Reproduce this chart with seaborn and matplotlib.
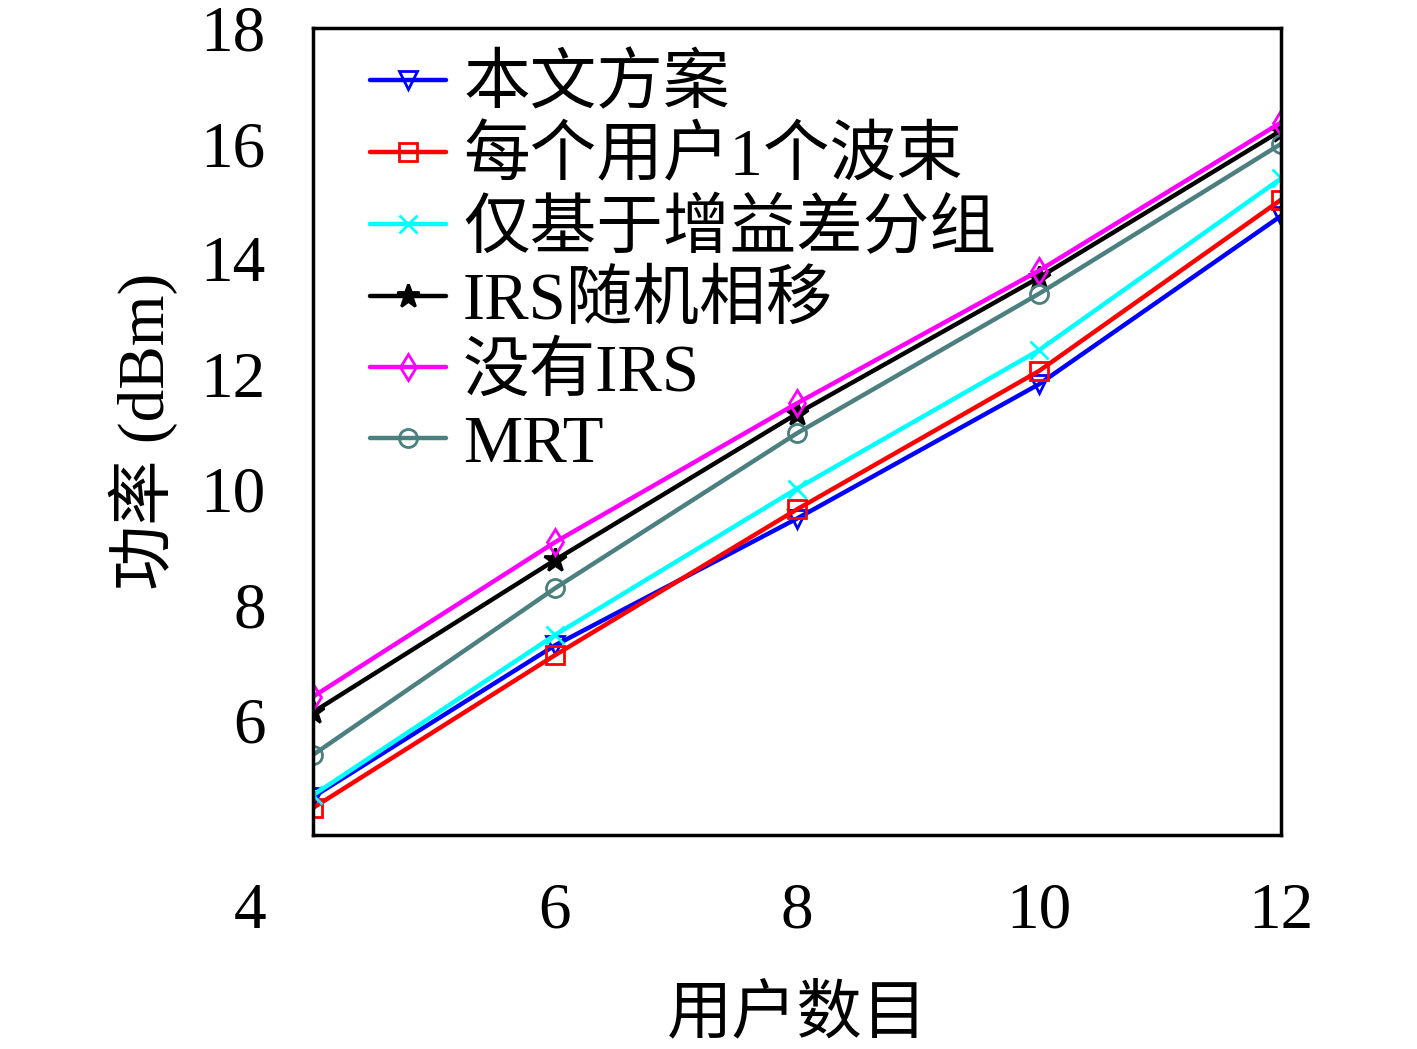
import matplotlib
matplotlib.use("Agg")
import matplotlib.pyplot as plt
import matplotlib.transforms as mtransforms
import seaborn as sns
import pandas as pd

users = [4, 6, 8, 10, 12]
proposed = [4.66, 7.29, 9.49, 11.82, 14.74]
one_beam = [4.47, 7.12, 9.65, 12.05, 15.02]
gain_group = [4.69, 7.47, 10.01, 12.41, 15.39]
irs_random = [6.13, 8.77, 11.31, 13.67, 16.22]
no_irs = [6.40, 9.08, 11.49, 13.79, 16.36]
mrt = [5.39, 8.28, 10.97, 13.39, 15.99]

labels = ["本文方案", "每个用户1个波束", "仅基于增益差分组", "IRS随机相移", "没有IRS", "MRT"]
series = [proposed, one_beam, gain_group, irs_random, no_irs, mrt]
colors = ["#0000ff", "#ff0000", "#00ffff", "#000000", "#ff00ff", "#4c7f7f"]
markers = ["v", "s", "x", "*", "d", "o"]

xticks = [4, 6, 8, 10, 12]
yticks = [6, 8, 10, 12, 14, 16, 18]
xlabel = "用户数目"
ylabel = "功率 (dBm)"

sns.set_theme(style="white")
fam = ["Liberation Serif", "Noto Sans CJK SC"]
plt.rcParams["font.family"] = fam
plt.rcParams["axes.unicode_minus"] = False
plt.rcParams["text.color"] = "black"
plt.rcParams["axes.labelcolor"] = "black"
plt.rcParams["xtick.color"] = "black"
plt.rcParams["ytick.color"] = "black"

fig = plt.figure(figsize=(14.17, 10.49), dpi=100)
fig.patch.set_facecolor("white")
ax = fig.add_axes([313/1417, 1-835/1049, (1281-313)/1417, (835-28)/1049])
ax.set_facecolor("white")

for lab, ys, c, m in zip(labels, series, colors, markers):
    df = pd.DataFrame({"x": users, "y": ys})
    filled = m == "*"
    sns.lineplot(data=df, x="x", y="y", ax=ax, color=c, marker=m, linewidth=3.2,
                 markersize=13 if m != "*" else 17,
                 markerfacecolor=c if filled else "none",
                 markeredgecolor=c, markeredgewidth=2.0, label=lab)

ax.set_xlim(4, 12)
ax.set_ylim(4, 18)
ax.set_xticks(xticks)
ax.set_xticklabels([str(v) for v in xticks])
ax.set_yticks(yticks)
ax.set_yticklabels([str(v) for v in yticks])
ax.tick_params(axis="x", direction="in", length=10, width=2, pad=34, labelsize=47, top=False)
ax.tick_params(axis="y", direction="in", length=10, width=2, pad=34, labelsize=47, right=False)
for t in ax.get_xticklabels():
    t.set_fontfamily(fam)
for t in ax.get_yticklabels():
    t.set_fontfamily(fam)
lab4 = ax.get_xticklabels()[0]
lab4.set_transform(lab4.get_transform() + mtransforms.ScaledTranslation(-0.63, 0, fig.dpi_scale_trans))

for s in ax.spines.values():
    s.set_color("black")
    s.set_linewidth(2.5)
    s.set_visible(True)

ax.set_xlabel(xlabel, fontsize=47, labelpad=32, family=fam)
ax.set_ylabel(ylabel, fontsize=47, labelpad=16, family=fam)

leg = ax.legend(loc="upper left", frameon=False, handlelength=1.15,
                handletextpad=0.25, labelspacing=0.15, borderaxespad=0.0,
                bbox_to_anchor=(0.031, 1.0), prop={"family": fam, "size": 48})

fig.savefig("out.png", dpi=100, facecolor="white")
